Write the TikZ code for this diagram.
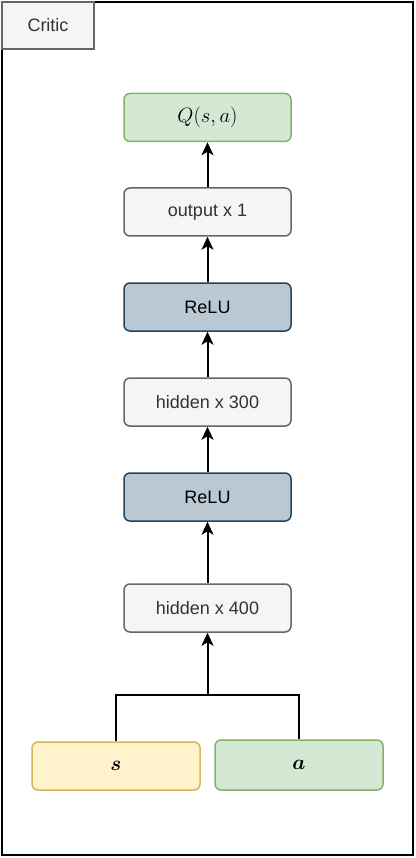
\documentclass[tikz,border=0pt]{standalone}
\usepackage{fontspec}
\setmainfont{Liberation Sans}
\usepackage{amsmath,bm}
\usetikzlibrary{arrows.meta}
\definecolor{grayfill}{HTML}{F5F5F5}
\definecolor{graydraw}{HTML}{666666}
\definecolor{graytext}{HTML}{333333}
\definecolor{greenfill}{HTML}{D5E8D4}
\definecolor{greendraw}{HTML}{82B366}
\definecolor{bluefill}{HTML}{BAC8D3}
\definecolor{bluedraw}{HTML}{23445D}
\definecolor{yellowfill}{HTML}{FFF2CC}
\definecolor{yellowdraw}{HTML}{D6B656}
\begin{document}
\begin{tikzpicture}[x=1pt,y=-1pt,
  box/.style={rounded corners=6pt, line width=1.5pt, minimum width=167pt, minimum height=48pt, inner sep=0pt, font=\fontsize{18}{21}\selectfont},
  graybox/.style={box, fill=grayfill, draw=graydraw, text=graytext},
  greenbox/.style={box, fill=greenfill, draw=greendraw},
  bluebox/.style={box, fill=bluefill, draw=bluedraw, text=black},
  yellowbox/.style={box, fill=yellowfill, draw=yellowdraw},
  conn/.style={line width=2pt, -{Stealth[length=13pt,width=12pt,inset=3.5pt]}},
  wire/.style={line width=2pt}]
\useasboundingbox (0,0) rectangle (415,858);
\draw[line width=2pt] (2,2) rectangle (413,855);
\node[draw=graydraw, fill=grayfill, text=graytext, line width=1.5pt, minimum width=92pt, minimum height=47pt, inner sep=0pt, font=\fontsize{18}{21}\selectfont] (critic) at (48,25.5) {Critic};
\node[greenbox] (q) at (207.5,117.5) {\fontsize{21}{24}\selectfont$Q(s,a)$};
\node[graybox] (out) at (207.5,212) {output x 1};
\node[bluebox] (relu2) at (207.5,307) {ReLU};
\node[graybox] (h300) at (207.5,402) {hidden x 300};
\node[bluebox] (relu1) at (207.5,497) {ReLU};
\node[graybox] (h400) at (207.5,608) {hidden x 400};
\node[yellowbox, minimum width=168pt] (s) at (116,766) {\fontsize{21}{24}\selectfont$\bm{s}$};
\node[greenbox, minimum width=168pt, minimum height=50pt] (a) at (299,765) {\fontsize{21}{24}\selectfont$\bm{a}$};
\coordinate (j) at (207.5,695);
\draw[conn] (out) -- (q);
\draw[conn] (relu2) -- (out);
\draw[conn] (h300) -- (relu2);
\draw[conn] (relu1) -- (h300);
\draw[conn] (h400) -- (relu1);
\draw[wire] (s.north) |- (j);
\draw[wire] (a.north) |- (j);
\draw[conn] (j) -- (h400);
\end{tikzpicture}
\end{document}
